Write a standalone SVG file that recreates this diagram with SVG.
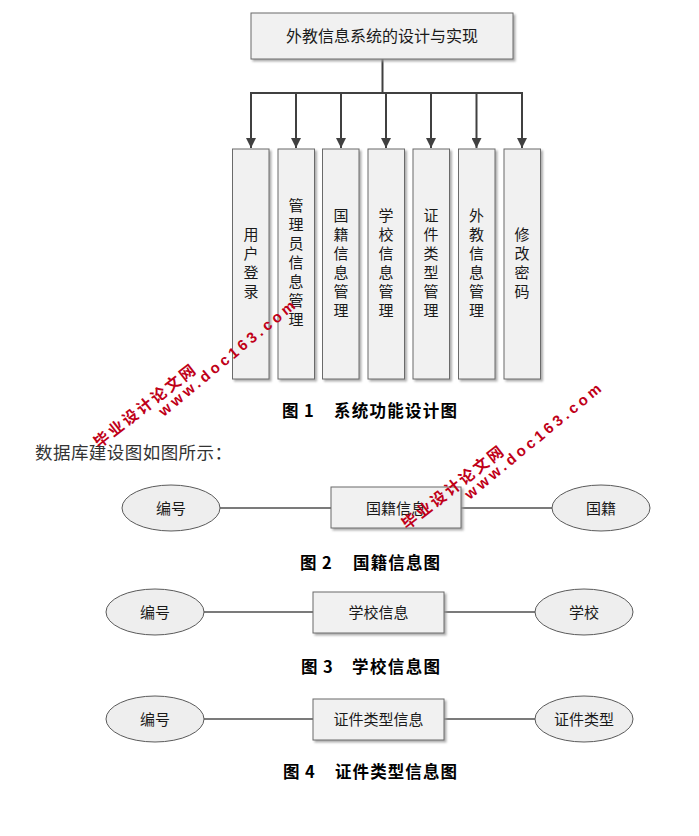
<svg xmlns="http://www.w3.org/2000/svg" width="699" height="836" viewBox="0 0 699 836">
<style>
  .box{fill:#f1f1f1;stroke:#6a6a6a;stroke-width:1;filter:url(#sh)}
  .ell{fill:#eeeeee;stroke:#5a5a5a;stroke-width:1}
  .t{font-family:"Noto Sans CJK SC","Liberation Sans",sans-serif;font-size:15px;fill:#1a1a1a;text-anchor:middle}
  .cap{font-family:"Noto Sans CJK SC","Liberation Serif",serif;font-size:16.5px;font-weight:bold;fill:#000}
  .tree{fill:none;stroke:#404040;stroke-width:2}
  .er{fill:none;stroke:#505050;stroke-width:1.3}
  .wm{font-weight:bold;fill:#c00018;text-anchor:middle;dominant-baseline:central}
</style>
<defs>
  <filter id="sh" x="-10%" y="-10%" width="130%" height="130%">
    <feDropShadow dx="2" dy="2" stdDeviation="0.8" flood-color="#999" flood-opacity="0.8"/>
  </filter>
  <marker id="arr" markerUnits="userSpaceOnUse" markerWidth="11" markerHeight="10" refX="10" refY="5" orient="auto" viewBox="0 0 10 10">
    <path d="M0,0 L10,5 L0,10 z" fill="#404040"/>
  </marker>
</defs>
<rect width="699" height="836" fill="#fff"/>

<g id="connectors">
  <path class="tree" d="M382.5,59 V93 M251,93 H522.5"/>
  <line class="tree" x1="251" y1="92" x2="251" y2="148" marker-end="url(#arr)"/>
  <line class="tree" x1="296" y1="93" x2="296" y2="148" marker-end="url(#arr)"/>
  <line class="tree" x1="341" y1="93" x2="341" y2="148" marker-end="url(#arr)"/>
  <line class="tree" x1="386" y1="93" x2="386" y2="148" marker-end="url(#arr)"/>
  <line class="tree" x1="431" y1="93" x2="431" y2="148" marker-end="url(#arr)"/>
  <line class="tree" x1="476.5" y1="93" x2="476.5" y2="148" marker-end="url(#arr)"/>
  <line class="tree" x1="522" y1="92" x2="522" y2="148" marker-end="url(#arr)"/>
  <path class="er" d="M220,508 H331 M461,508 H552"/>
  <path class="er" d="M204,612 H313 M444,612 H535"/>
  <path class="er" d="M204,719 H313 M444,719 H535"/>
</g>

<g id="root">
  <rect class="box" x="251" y="13" width="262" height="46"/>
  <text class="t" x="382" y="42" style="font-size:16px">外教信息系统的设计与实现</text>
</g>

<g id="n1"><rect class="box" x="232.5" y="149" width="36.5" height="230"/>
  <text class="t" x="251"><tspan x="251" y="240">用</tspan><tspan x="251" y="259">户</tspan><tspan x="251" y="278">登</tspan><tspan x="251" y="297">录</tspan></text></g>
<g id="n2"><rect class="box" x="278" y="149" width="36.5" height="230"/>
  <text class="t"><tspan x="296" y="211">管</tspan><tspan x="296" y="230">理</tspan><tspan x="296" y="249">员</tspan><tspan x="296" y="268">信</tspan><tspan x="296" y="287">息</tspan><tspan x="296" y="306">管</tspan><tspan x="296" y="325">理</tspan></text></g>
<g id="n3"><rect class="box" x="322.5" y="149" width="36.5" height="230"/>
  <text class="t"><tspan x="341" y="221">国</tspan><tspan x="341" y="240">籍</tspan><tspan x="341" y="259">信</tspan><tspan x="341" y="278">息</tspan><tspan x="341" y="297">管</tspan><tspan x="341" y="316">理</tspan></text></g>
<g id="n4"><rect class="box" x="368" y="149" width="36.5" height="230"/>
  <text class="t"><tspan x="386" y="221">学</tspan><tspan x="386" y="240">校</tspan><tspan x="386" y="259">信</tspan><tspan x="386" y="278">息</tspan><tspan x="386" y="297">管</tspan><tspan x="386" y="316">理</tspan></text></g>
<g id="n5"><rect class="box" x="413" y="149" width="36.5" height="230"/>
  <text class="t"><tspan x="431" y="221">证</tspan><tspan x="431" y="240">件</tspan><tspan x="431" y="259">类</tspan><tspan x="431" y="278">型</tspan><tspan x="431" y="297">管</tspan><tspan x="431" y="316">理</tspan></text></g>
<g id="n6"><rect class="box" x="458.5" y="149" width="36.5" height="230"/>
  <text class="t"><tspan x="476.5" y="221">外</tspan><tspan x="476.5" y="240">教</tspan><tspan x="476.5" y="259">信</tspan><tspan x="476.5" y="278">息</tspan><tspan x="476.5" y="297">管</tspan><tspan x="476.5" y="316">理</tspan></text></g>
<g id="n7"><rect class="box" x="504" y="149" width="36.5" height="230"/>
  <text class="t"><tspan x="522" y="240">修</tspan><tspan x="522" y="259">改</tspan><tspan x="522" y="278">密</tspan><tspan x="522" y="297">码</tspan></text></g>

<text class="cap" y="417"><tspan x="282">图</tspan><tspan x="304">1</tspan><tspan x="334" textLength="123" lengthAdjust="spacing">系统功能设计图</tspan></text>
<text x="35" y="459" textLength="197" lengthAdjust="spacing" style="font-family:'Noto Sans CJK SC',sans-serif;font-size:17.5px;fill:#333">数据库建设图如图所示：</text>

<g id="e2a"><ellipse class="ell" cx="171" cy="508" rx="49" ry="23"/><text class="t" x="171" y="513.5">编号</text></g>
<g id="r2"><rect class="box" x="331" y="487" width="130" height="41"/><text class="t" x="396" y="513.5">国籍信息</text></g>
<g id="e2b"><ellipse class="ell" cx="601" cy="508" rx="49" ry="23"/><text class="t" x="601" y="513.5">国籍</text></g>
<text class="cap" y="569"><tspan x="300">图</tspan><tspan x="322">2</tspan><tspan x="353" textLength="87" lengthAdjust="spacing">国籍信息图</tspan></text>

<g id="e3a"><ellipse class="ell" cx="155" cy="612" rx="49" ry="23"/><text class="t" x="155" y="617.5">编号</text></g>
<g id="r3"><rect class="box" x="313" y="592" width="131" height="41"/><text class="t" x="378.5" y="617.5">学校信息</text></g>
<g id="e3b"><ellipse class="ell" cx="584" cy="612" rx="49" ry="23"/><text class="t" x="584" y="617.5">学校</text></g>
<text class="cap" y="673"><tspan x="301">图</tspan><tspan x="323">3</tspan><tspan x="352" textLength="88" lengthAdjust="spacing">学校信息图</tspan></text>

<g id="e4a"><ellipse class="ell" cx="155" cy="719" rx="49" ry="23"/><text class="t" x="155" y="724.5">编号</text></g>
<g id="r4"><rect class="box" x="313" y="699" width="131" height="41"/><text class="t" x="378.5" y="724.5">证件类型信息</text></g>
<g id="e4b"><ellipse class="ell" cx="584" cy="719" rx="49" ry="23"/><text class="t" x="584" y="724.5">证件类型</text></g>
<text class="cap" y="778"><tspan x="283">图</tspan><tspan x="305">4</tspan><tspan x="335" textLength="122" lengthAdjust="spacing">证件类型信息图</tspan></text>

<g id="watermarks">
  <text class="wm" transform="translate(143.5,405) rotate(-38)" style="font-family:'Noto Sans CJK SC',sans-serif;font-size:15.5px" textLength="124" lengthAdjust="spacing">毕业设计论文网</text>
  <text class="wm" transform="translate(226.5,358) rotate(-39.5)" style="font-family:'Liberation Sans',sans-serif;font-size:15px" textLength="172" lengthAdjust="spacing">www.doc163.com</text>
  <text class="wm" transform="translate(451.5,486.5) rotate(-38)" style="font-family:'Noto Sans CJK SC',sans-serif;font-size:15.5px" textLength="124" lengthAdjust="spacing">毕业设计论文网</text>
  <text class="wm" transform="translate(532.5,441) rotate(-39.5)" style="font-family:'Liberation Sans',sans-serif;font-size:15px" textLength="172" lengthAdjust="spacing">www.doc163.com</text>
</g>
</svg>
